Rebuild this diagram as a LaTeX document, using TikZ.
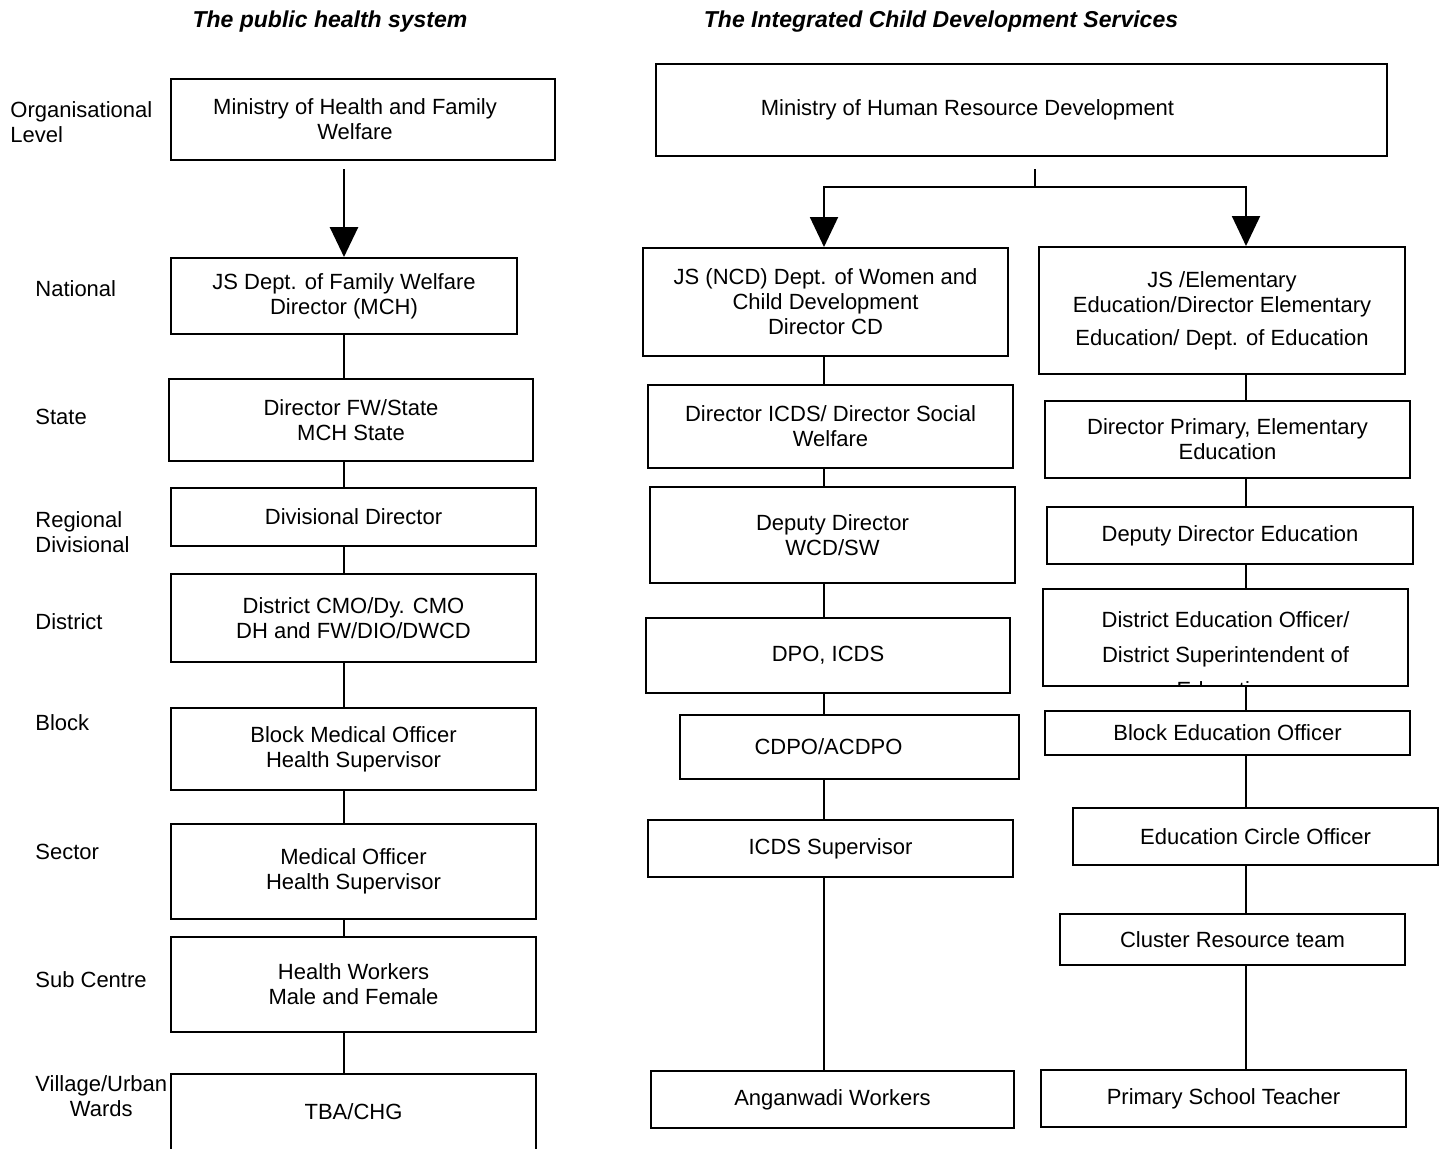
\documentclass[tikz,border=0pt]{standalone}
\usepackage{fontspec}
\setmainfont{Liberation Sans}
\usetikzlibrary{calc, arrows.meta, positioning}

\begin{document}
\begin{tikzpicture}[x=0.5pt, y=-0.5pt,
  boxstyle/.style={draw, line width=1pt, align=center, inner sep=0pt, font=\fontsize{11}{12.5}\selectfont},
  boxwh/.style 2 args={minimum width=#1*0.5pt, minimum height=#2*0.5pt},
  levelstyle/.style={anchor=west, align=left, inner sep=0pt, font=\fontsize{11}{12.5}\selectfont},
  titlestyle/.style={inner sep=0pt, font=\fontsize{11.5}{13}\selectfont\bfseries\itshape},
  linkstyle/.style={line width=1pt},
  bigarrow/.style={line width=1.4pt, -{Triangle[length=15pt,width=14pt]}}]
\useasboundingbox (0,0) rectangle (1444,1148);

% titles
\node[titlestyle] (phs) at (330,22) {The public health system};
\node[titlestyle] (icds) at (941,22) {The Integrated Child Development Services};

% levels
\node[levelstyle] (lvl0) at (10,122) {Organisational\\Level};
\foreach \lvl/\y [count=\i] in {National/289, State/417, {Regional\\Divisional}/532, District/622, Block/723, Sector/852, Sub Centre/980}
  \node[levelstyle] (lvl\i) at (35,\y) {\lvl};
\node[levelstyle, align=center] (lvl8) at (35,1096) {Village/Urban\\Wards};

% public health system
\node[boxstyle, boxwh={384}{81}] (h1) at (363,119.5) {\hspace*{-8pt}Ministry of Health and Family\\\hspace*{-8pt}Welfare};
\node[boxstyle, boxwh={346}{76}] (h2) at (344,296) {JS Dept. of Family Welfare\\Director (MCH)};
\node[boxstyle, boxwh={364}{82}] (h3) at (351,420) {Director FW/State\\MCH State};
\foreach \name/\y/\h/\txt in {h4/517/58/{Divisional Director}, h5/618/88/{District CMO/Dy. CMO\\DH and FW/DIO/DWCD}, h6/749/82/{Block Medical Officer\\Health Supervisor}, h7/871.5/95/{Medical Officer\\Health Supervisor}, h8/984.5/95/{Health Workers\\Male and Female}, h9/1112/76/{TBA/CHG}}
  \node[boxstyle, boxwh={365}{\h}] (\name) at (353.5,\y) {\txt};

\coordinate (hx) at (344,0);
\draw[bigarrow, shorten <=4pt] (h1.south -| hx) -- (h2.north);
\foreach \a/\b in {h2/h3, h3/h4, h4/h5, h5/h6, h6/h7, h7/h8, h8/h9}
  \draw[linkstyle] (\a.south -| hx) -- (\b.north -| hx);

% ICDS
\node[boxstyle, boxwh={731}{92}] (m1) at (1021.5,110) {\hspace*{-54pt}Ministry of Human Resource Development};
\node[boxstyle, boxwh={365}{108}] (n1) at (825.5,302) {JS (NCD) Dept. of Women and\\Child Development\\Director CD};
\node[boxstyle, boxwh={365}{83}] (n2) at (830.5,426.5) {Director ICDS/ Director Social\\Welfare};
\node[boxstyle, boxwh={365}{96}] (n3) at (832.5,535) {Deputy Director\\WCD/SW};
\node[boxstyle, boxwh={364}{75}] (n4) at (828,655.5) {DPO, ICDS};
\node[boxstyle, boxwh={339}{64}] (n5) at (849.5,747) {\hspace*{-21pt}CDPO/ACDPO};
\node[boxstyle, boxwh={365}{57}] (n6) at (830.5,848.5) {ICDS Supervisor};
\node[boxstyle, boxwh={363}{57}] (n7) at (832.5,1099.5) {Anganwadi Workers};

% education
\node[boxstyle, boxwh={366}{127}] (e1) at (1222,310.5) {JS /Elementary\\Education/Director Elementary\\[4pt]Education/ Dept. of Education};
\node[boxstyle, boxwh={365}{77}] (e2) at (1227.5,439.5) {Director Primary, Elementary\\Education};
\node[boxstyle, boxwh={366}{57}] (e3) at (1230,535.5) {Deputy Director Education};
\node[boxstyle, boxwh={365}{97}, path picture={
    \node[align=center, inner sep=0pt, anchor=north, font=\fontsize{11}{12.5}\selectfont]
      at ([yshift=-8pt]path picture bounding box.north)
      {District Education Officer/\\[5pt]District Superintendent of\\[5pt]Education};}]
  (e4) at (1225.5,637.5) {};
\node[boxstyle, boxwh={365}{44}] (e5) at (1227.5,733) {Block Education Officer};
\node[boxstyle, boxwh={365}{57}] (e6) at (1255.5,836.5) {Education Circle Officer};
\node[boxstyle, boxwh={345}{51}] (e7) at (1232.5,939.5) {Cluster Resource team};
\node[boxstyle, boxwh={365}{57}] (e8) at (1223.5,1098.5) {Primary School Teacher};

\coordinate (nx) at (824,0);
\coordinate (ex) at (1246,0);
\coordinate (split) at (1035,187);
\draw[linkstyle, shorten <=6pt] (m1.south -| split) -- (split);
\draw[linkstyle, -{Triangle[length=15pt,width=14pt]}] (split) -| (n1.north -| nx);
\draw[linkstyle, -{Triangle[length=15pt,width=14pt]}] (split) -| (e1.north -| ex);
\foreach \a/\b in {n1/n2, n2/n3, n3/n4, n4/n5, n5/n6, n6/n7}
  \draw[linkstyle] (\a.south -| nx) -- (\b.north -| nx);
\foreach \a/\b in {e1/e2, e2/e3, e3/e4, e4/e5, e5/e6, e6/e7, e7/e8}
  \draw[linkstyle] (\a.south -| ex) -- (\b.north -| ex);
\end{tikzpicture}
\end{document}
